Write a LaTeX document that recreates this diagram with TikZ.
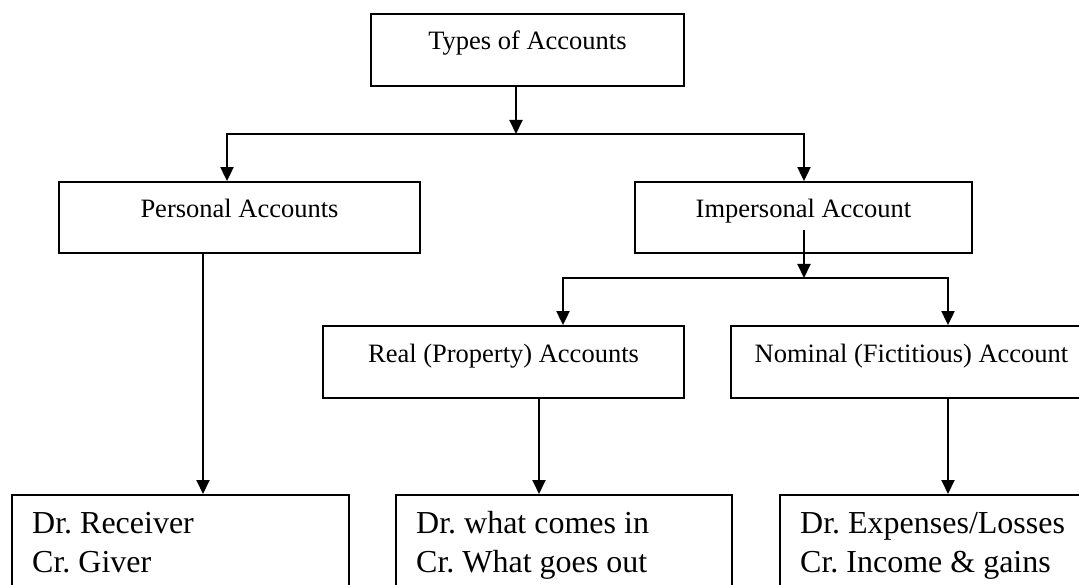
\documentclass[tikz,border=0pt]{standalone}
\usepackage{fontspec}
\setmainfont{Liberation Serif}
\usetikzlibrary{arrows.meta}
\frenchspacing
\begin{document}
\begin{tikzpicture}[x=1pt,y=-1pt,
  box/.style={draw, line width=1.8pt, rectangle, inner sep=0pt},
  lbl/.style={font=\fontsize{26.5pt}{32pt}\selectfont, inner sep=0pt, anchor=base},
  rule/.style={font=\fontsize{32pt}{39pt}\selectfont, inner sep=0pt, anchor=base west},
  conn/.style={line width=1.9pt},
  arr/.style={conn, -{Triangle[length=14pt,width=13pt]}}]
\useasboundingbox (0,0) rectangle (1079,585);
\clip (0,0) rectangle (1079,585);

% account boxes
\node[box, minimum width=313pt, minimum height=72pt] (types) at (527.5,50) {};
\node[box, minimum width=361pt, minimum height=71pt] (pers) at (239.5,217.5) {};
\node[box, minimum width=337pt, minimum height=71pt] (imp) at (803.5,217.5) {};
\node[box, minimum width=361pt, minimum height=72pt] (real) at (503.5,362) {};
\node[box, minimum width=361pt, minimum height=72pt] (nom) at (911.5,362) {};

% rule boxes (run past the lower edge)
\node[box, anchor=north west, minimum width=337pt, minimum height=130pt] (recv) at (11,494) {};
\node[box, anchor=north west, minimum width=336pt, minimum height=130pt] (realD) at (395,494) {};
\node[box, anchor=north west, minimum width=337pt, minimum height=130pt] (nomD) at (779,494) {};

% titles
\node[lbl] (typesT) at (types.center) {Types of Accounts};
\node[lbl] (persT) at (pers.center) {Personal Accounts};
\node[lbl] (impT) at (imp.center) {Impersonal Account};
\node[lbl] (realT) at (real.center) {Real (Property) Accounts};
\node[lbl] (nomT) at (nom.center) {Nominal (Fictitious) Account};

% debit / credit rules
\node[rule] (recvA) at ([xshift=21pt,yshift=-39pt]recv.north west) {Dr. Receiver};
\node[rule] (recvB) at ([yshift=-39pt]recvA.base west) {Cr. Giver};
\node[rule] (realDA) at ([xshift=21pt,yshift=-39pt]realD.north west) {Dr. what comes in};
\node[rule] (realDB) at ([yshift=-39pt]realDA.base west) {Cr. What goes out};
\node[rule] (nomDA) at ([xshift=21pt,yshift=-39pt]nomD.north west) {Dr. Expenses/Losses};
\node[rule] (nomDB) at ([yshift=-39pt]nomDA.base west) {Cr. Income \& gains};

% connectors
\coordinate (j1) at (516,134);
\coordinate (j2) at (804,278);
\draw[arr] (types.south -| j1) -- (j1);
\draw[arr] (j1) -| ([xshift=-12.5pt]pers.north);
\draw[arr] (j1) -| ([xshift=0.5pt]imp.north);
\draw[arr] ([yshift=24pt]imp.south -| j2) -- (j2);
\draw[arr] (j2) -| ([xshift=59.5pt]real.north);
\draw[arr] (j2) -| ([xshift=36.5pt]nom.north);

\coordinate (pout) at ([xshift=-36.5pt]pers.south);
\coordinate (rout) at ([xshift=35.5pt]real.south);
\coordinate (nout) at ([xshift=36.5pt]nom.south);
\draw[arr] (pout) -- (pout |- recv.north);
\draw[arr] (rout) -- (rout |- realD.north);
\draw[arr] (nout) -- (nout |- nomD.north);
\end{tikzpicture}
\end{document}
